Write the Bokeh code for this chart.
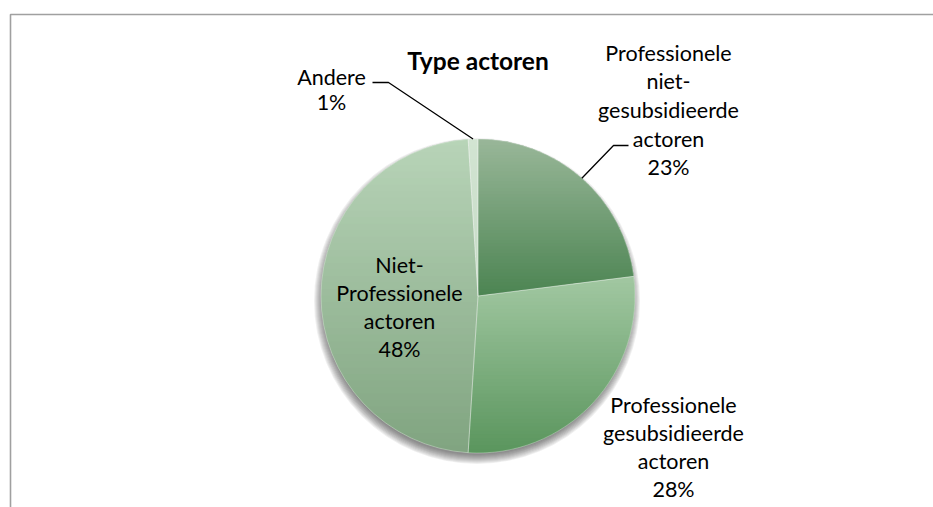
import numpy as np
from bokeh.plotting import figure
from bokeh.models import Range1d
from bokeh.embed import file_html
from bokeh.resources import INLINE
from bokeh.core.properties import value

# ---------------- data ----------------
title = "Type actoren"
categories = [
    "Professionele niet-gesubsidieerde actoren",
    "Professionele gesubsidieerde actoren",
    "Niet-Professionele actoren",
    "Andere",
]
percentages = [23, 28, 48, 1]
label_lines = [
    ["Professionele", "niet-", "gesubsidieerde", "actoren"],
    ["Professionele", "gesubsidieerde", "actoren"],
    ["Niet-", "Professionele", "actoren"],
    ["Andere"],
]

# ---------------- style / layout ----------------
color_top = ["#99b799", "#a2c8a2", "#b8d4b8", "#d2e4d2"]
color_bot = ["#4c8452", "#5a955d", "#80a480", "#c6dbc6"]
FONT = "Lato"

W, H = 933, 507
def px(X):  # page pixel -> data x
    return X
def py(Y):  # page pixel -> data y
    return H - Y

CX, CY, R = px(477.5), py(295.5), 157.0
# label block centres (page px) and line gaps
label_center = [(668, 109.5), (673, 446), (399, 306.5), (331, 89)]
label_gap = [28.6, 28.0, 27.7, 25.0]
# leader knees / ends (page px), None = no leader
leader_knee = [(613, 145), None, None, (388, 82)]
leader_end = [(628, 145), None, None, (372, 82)]

p = figure(width=W, height=H, x_range=Range1d(0, W), y_range=Range1d(0, H),
           output_backend="svg", toolbar_location=None,
           x_axis_type=None, y_axis_type=None, min_border=0)
p.grid.visible = False
p.outline_line_color = None
p.background_fill_color = "white"
p.border_fill_color = "white"

# chart frame (top and left edges visible)
p.line([px(10), px(10), W + 10], [-10, py(14), py(14)], line_color="#a0a0a0", line_width=1.6)

# angles
fr = np.array(percentages, dtype=float) / sum(percentages)
cum = np.concatenate([[0], np.cumsum(fr)])
start_deg = 90 - 360 * cum[:-1]
end_deg = 90 - 360 * cum[1:]
mid_deg = (start_deg + end_deg) / 2

# shadow
for k in range(-3, 7):
    p.circle(x=CX - 1, y=CY - 5, radius=R + k, fill_color="#303030", fill_alpha=0.07, line_color=None)

def hex2rgb(h):
    h = h.lstrip("#")
    return np.array([int(h[i:i + 2], 16) for i in (0, 2, 4)], dtype=float)

def mix(c0, c1, t):
    c = hex2rgb(c0) * (1 - t) + hex2rgb(c1) * t
    return "#%02x%02x%02x" % tuple(int(round(v)) for v in c)

mid_colors = [mix(a, b, 0.5) for a, b in zip(color_top, color_bot)]

# base wedges
p.wedge(x=CX, y=CY, radius=R,
        start_angle=np.radians(start_deg), end_angle=np.radians(end_deg),
        direction="clock", fill_color=mid_colors, line_color=None)

# gradient overlay: slice polygons split into horizontal bands
def clip(poly, y0, keep_above):
    out = []
    n = len(poly)
    for i in range(n):
        P, Q = poly[i], poly[(i + 1) % n]
        pin = P[1] >= y0 if keep_above else P[1] <= y0
        qin = Q[1] >= y0 if keep_above else Q[1] <= y0
        if pin:
            out.append(P)
        if pin != qin:
            t = (y0 - P[1]) / (Q[1] - P[1])
            out.append((P[0] + t * (Q[0] - P[0]), y0))
    return out

bx, by, bc = [], [], []
NB = 48
for i in range(len(percentages)):
    a = np.radians(np.linspace(start_deg[i], end_deg[i], 200))
    poly = [(CX, CY)] + [(CX + R * np.cos(t), CY + R * np.sin(t)) for t in a]
    ys = [q[1] for q in poly]
    ytop, ybot = max(ys), min(ys)
    h = (ytop - ybot) / NB
    for k in range(NB):
        hi = ytop - k * h + 0.4
        lo = ytop - (k + 1) * h - 0.4
        band = clip(clip(poly, lo, True), hi, False)
        if len(band) < 3:
            continue
        bx.append([q[0] for q in band])
        by.append([q[1] for q in band])
        bc.append(mix(color_top[i], color_bot[i], (k + 0.5) / NB))
p.patches(bx, by, fill_color=bc, line_color=None)

# thin slice separators
p.wedge(x=CX, y=CY, radius=R,
        start_angle=np.radians(start_deg), end_angle=np.radians(end_deg),
        direction="clock", fill_alpha=0, line_color="white", line_alpha=0.35, line_width=0.8)

# leader lines
lx, ly = [], []
for i in range(len(percentages)):
    if leader_knee[i] is None:
        continue
    t = np.radians(mid_deg[i])
    x0, y0 = CX + R * np.cos(t), CY + R * np.sin(t)
    lx.append([x0, px(leader_knee[i][0]), px(leader_end[i][0])])
    ly.append([y0, py(leader_knee[i][1]), py(leader_end[i][1])])
p.multi_line(lx, ly, line_color="black", line_width=1.3)

# labels
tx, ty, tt = [], [], []
for i in range(len(percentages)):
    lines = label_lines[i] + ["%d%%" % percentages[i]]
    Xc, Yc = label_center[i]
    n = len(lines)
    for j, s in enumerate(lines):
        Y = Yc + (j - (n - 1) / 2) * label_gap[i]
        tx.append(px(Xc))
        ty.append(py(Y))
        tt.append(s)
p.text(x=tx, y=ty, text=tt, text_font=value(FONT), text_font_size="21.5px",
       text_align="center", text_baseline="middle", text_color="black")

# title
p.text(x=[CX], y=[py(60)], text=[title], text_font=value(FONT), text_font_size="24.5px",
       text_font_style="bold", text_align="center", text_baseline="middle", text_color="black")

open("out.html", "w").write(file_html(p, INLINE))
